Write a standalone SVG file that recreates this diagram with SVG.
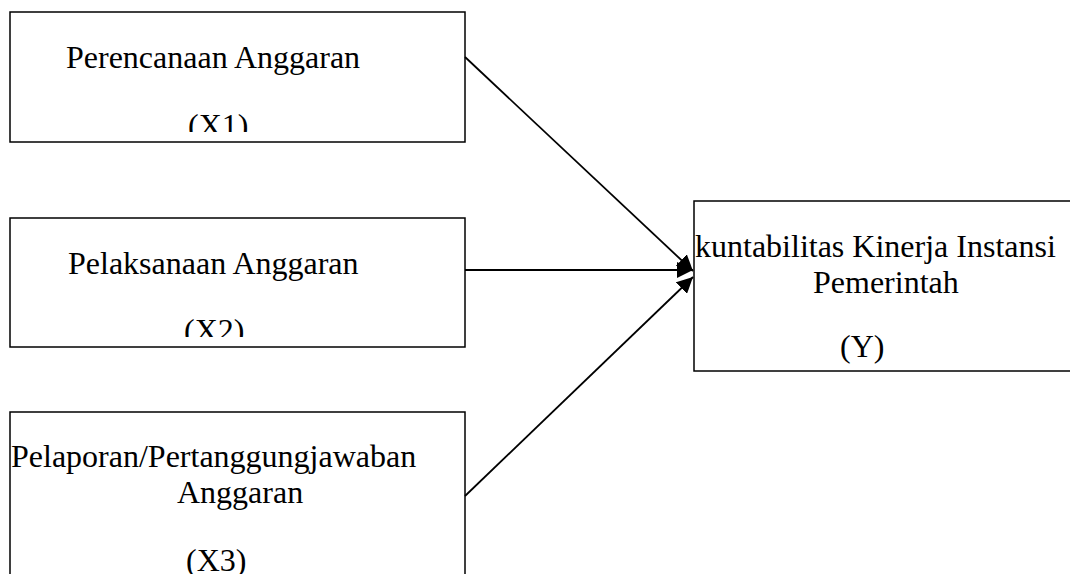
<svg xmlns="http://www.w3.org/2000/svg" width="1070" height="574" viewBox="0 0 1070 574">
  <style>
    .box { fill: #ffffff; stroke: #000000; stroke-width: 1.5; }
    .lbl { font-family: "Liberation Serif", "Times New Roman", serif; font-size: 32px; fill: #000000; }
    .edge { stroke: #000000; stroke-width: 1.8; fill: none; marker-end: url(#arrow); }
  </style>
  <defs>
    <marker id="arrow" viewBox="0 0 10 10" refX="10" refY="5" markerWidth="16" markerHeight="16" markerUnits="userSpaceOnUse" orient="auto">
      <path d="M0,0 L10,5 L0,10 z" fill="#000000"/>
    </marker>
    <clipPath id="clipX1"><rect x="10" y="12" width="455" height="120"/></clipPath>
    <clipPath id="clipX2"><rect x="10" y="218" width="455" height="119"/></clipPath>
  </defs>
  <rect width="1070" height="574" fill="#ffffff"/>

  <g id="node-x1">
    <rect class="box" x="10" y="12" width="455" height="130"/>
    <text class="lbl" x="66" y="68">Perencanaan Anggaran</text>
    <text class="lbl" x="188" y="136" clip-path="url(#clipX1)">(X1)</text>
  </g>

  <g id="node-x2">
    <rect class="box" x="10" y="218" width="455" height="129"/>
    <text class="lbl" x="68" y="274">Pelaksanaan Anggaran</text>
    <text class="lbl" x="184" y="341" clip-path="url(#clipX2)">(X2)</text>
  </g>

  <g id="node-x3">
    <rect class="box" x="10" y="412" width="455" height="200"/>
    <text class="lbl" x="11" y="467">Pelaporan/Pertanggungjawaban</text>
    <text class="lbl" x="177" y="503">Anggaran</text>
    <text class="lbl" x="186" y="571">(X3)</text>
  </g>

  <g id="node-y">
    <rect class="box" x="694" y="201" width="400" height="170"/>
    <text class="lbl" x="695" y="257">kuntabilitas Kinerja Instansi</text>
    <text class="lbl" x="813" y="293">Pemerintah</text>
    <text class="lbl" x="840" y="357">(Y)</text>
  </g>

  <g id="connectors">
    <line class="edge" x1="465" y1="57" x2="693" y2="271"/>
    <line class="edge" x1="465" y1="270" x2="693" y2="270"/>
    <line class="edge" x1="465" y1="496" x2="693" y2="277"/>
  </g>
</svg>
